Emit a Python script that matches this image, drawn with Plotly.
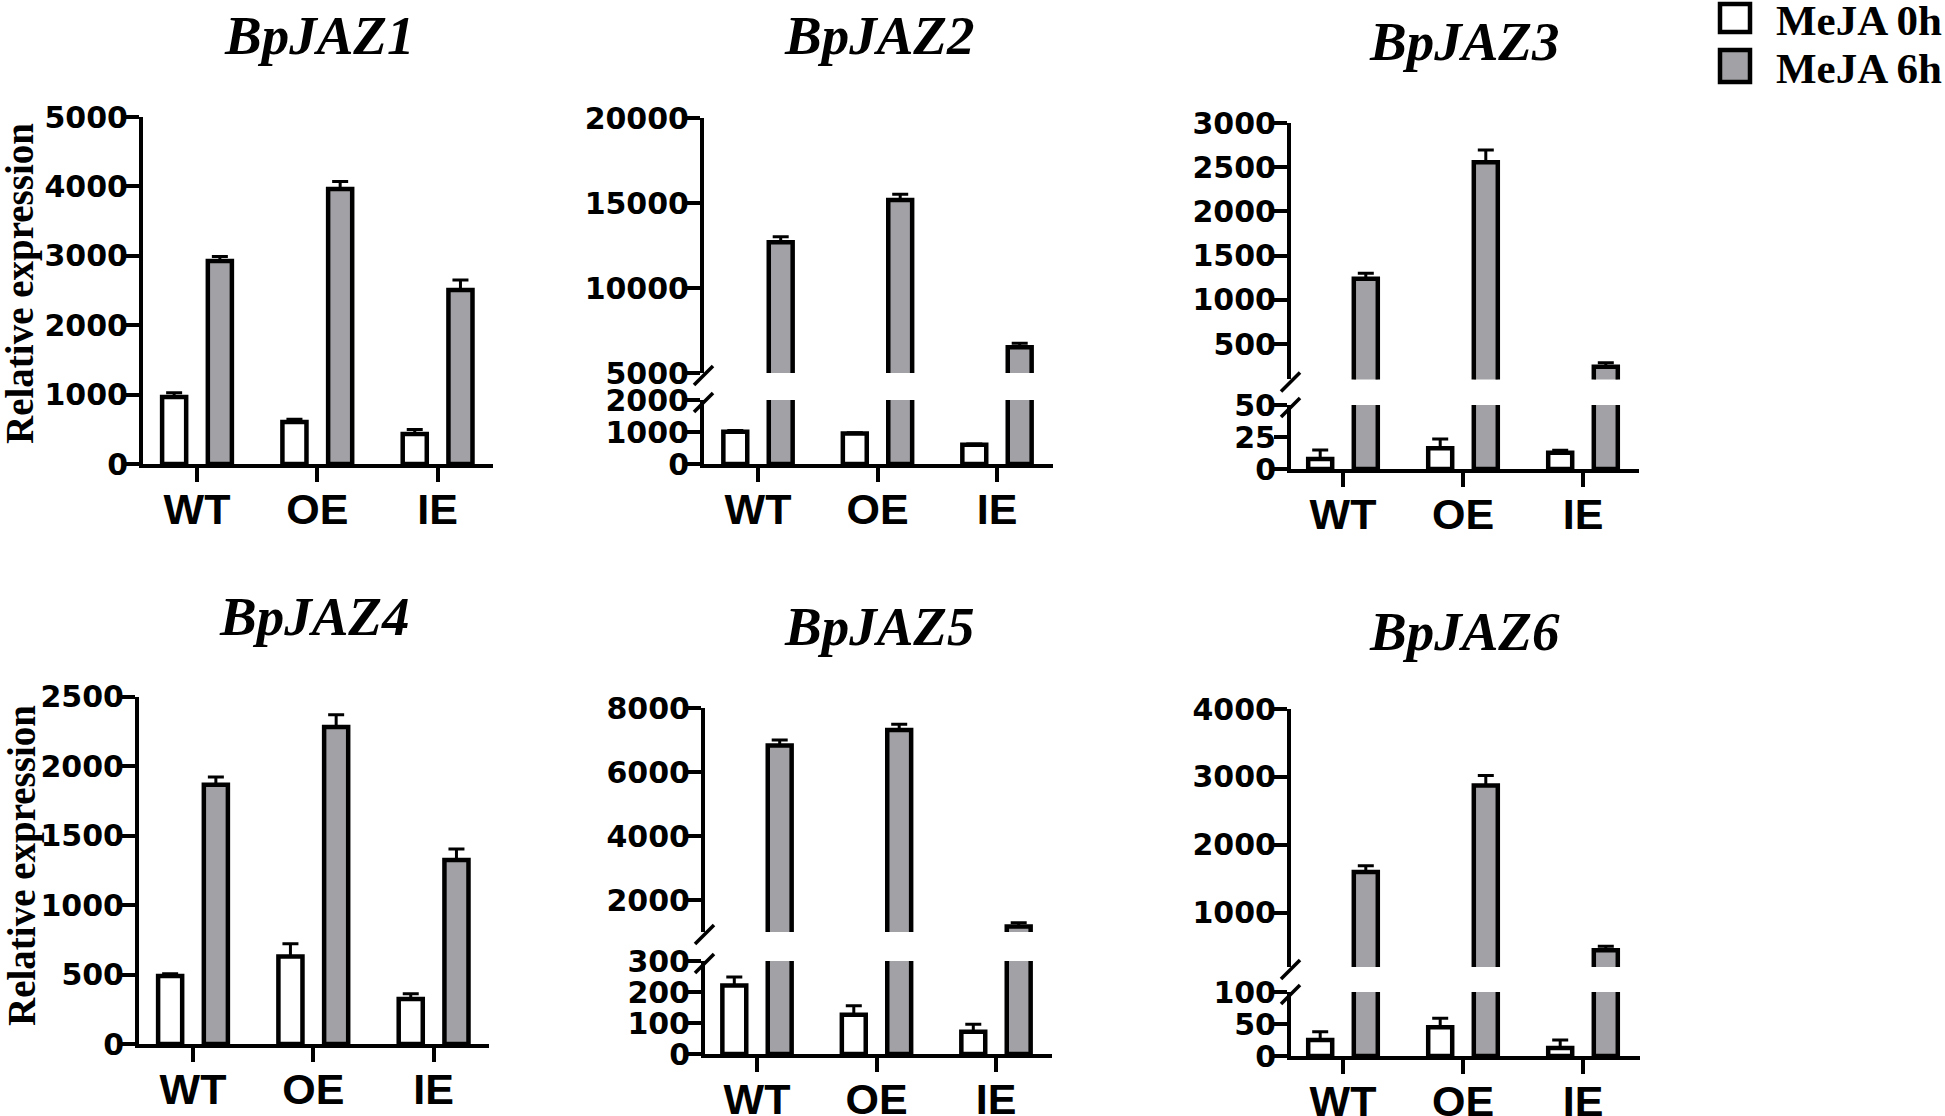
import plotly.graph_objects as go

W, H = 1945, 1116

# ---------------- data ----------------
categories = ["WT", "OE", "IE"]
genes = ["BpJAZ1", "BpJAZ2", "BpJAZ3", "BpJAZ4", "BpJAZ5", "BpJAZ6"]
series_names = ["MeJA 0h", "MeJA 6h"]
y_title = "Relative expression"

jaz1_0h = [965, 605, 432]
jaz1_0h_err = [60, 40, 65]
jaz1_6h = [2925, 3962, 2507]
jaz1_6h_err = [65, 110, 145]

jaz2_0h = [1010, 950, 600]
jaz2_0h_err = [40, 30, 25]
jaz2_6h = [12690, 15180, 6510]
jaz2_6h_err = [330, 330, 235]

jaz3_0h = [7.8, 16.2, 12.6]
jaz3_0h_err = [7, 7.3, 2]
jaz3_6h = [1238, 2555, 243]
jaz3_6h_err = [64, 139, 45]

jaz4_0h = [490, 630, 324]
jaz4_0h_err = [15, 92, 38]
jaz4_6h = [1865, 2281, 1324]
jaz4_6h_err = [56, 87, 79]

jaz5_0h = [221, 127, 72]
jaz5_0h_err = [27, 29, 24]
jaz5_6h = [6825, 7313, 1169]
jaz5_6h_err = [175, 178, 122]

jaz6_0h = [25, 45, 12.5]
jaz6_0h_err = [13, 14, 12.5]
jaz6_6h = [1599, 2874, 447]
jaz6_6h_err = [93, 146, 57]

jaz1_ticks = [0, 1000, 2000, 3000, 4000, 5000]
jaz2_ticks_low = [0, 1000, 2000]
jaz2_ticks_high = [5000, 10000, 15000, 20000]
jaz3_ticks_low = [0, 25, 50]
jaz3_ticks_high = [500, 1000, 1500, 2000, 2500, 3000]
jaz4_ticks = [0, 500, 1000, 1500, 2000, 2500]
jaz5_ticks_low = [0, 100, 200, 300]
jaz5_ticks_high = [2000, 4000, 6000, 8000]
jaz6_ticks_low = [0, 50, 100]
jaz6_ticks_high = [1000, 2000, 3000, 4000]

# ---------------- layout geometry (pixels) ----------------
panels = [
    dict(v0=jaz1_0h, e0=jaz1_0h_err, v6=jaz1_6h, e6=jaz1_6h_err,
         xl=143, xr=493, c0=197, sp=120.3,
         segs=[dict(b=464, t=117, rng=[0, 5000], ticks=jaz1_ticks)],
         title=(319, 35), ylab=(20, 284)),
    dict(v0=jaz2_0h, e0=jaz2_0h_err, v6=jaz2_6h, e6=jaz2_6h_err,
         xl=704, xr=1053, c0=758, sp=119.5,
         segs=[dict(b=464, t=400, rng=[0, 2000], ticks=jaz2_ticks_low),
               dict(b=373, t=118, rng=[5000, 20000], ticks=jaz2_ticks_high)],
         title=(879, 35), ylab=None),
    dict(v0=jaz3_0h, e0=jaz3_0h_err, v6=jaz3_6h, e6=jaz3_6h_err,
         xl=1291, xr=1639, c0=1343, sp=120,
         segs=[dict(b=469, t=405, rng=[0, 50], ticks=jaz3_ticks_low),
               dict(b=379.4, t=123, rng=[100, 3000], ticks=jaz3_ticks_high)],
         title=(1464, 41), ylab=None),
    dict(v0=jaz4_0h, e0=jaz4_0h_err, v6=jaz4_6h, e6=jaz4_6h_err,
         xl=139, xr=489, c0=193, sp=120.3,
         segs=[dict(b=1044, t=696.5, rng=[0, 2500], ticks=jaz4_ticks)],
         title=(314, 616), ylab=(22, 866)),
    dict(v0=jaz5_0h, e0=jaz5_0h_err, v6=jaz5_6h, e6=jaz5_6h_err,
         xl=705, xr=1052, c0=757, sp=119.5,
         segs=[dict(b=1054, t=961, rng=[0, 300], ticks=jaz5_ticks_low),
               dict(b=932, t=708, rng=[1000, 8000], ticks=jaz5_ticks_high)],
         title=(879, 626), ylab=None),
    dict(v0=jaz6_0h, e0=jaz6_0h_err, v6=jaz6_6h, e6=jaz6_6h_err,
         xl=1291, xr=1640, c0=1343, sp=120,
         segs=[dict(b=1056, t=992, rng=[0, 100], ticks=jaz6_ticks_low),
               dict(b=967, t=709, rng=[200, 4000], ticks=jaz6_ticks_high)],
         title=(1464, 631), ylab=None),
]

GRAY = "#A2A2A6"
LINE_W = 4.5
BAR_W = 0.2
OFF0, OFF6 = -0.29, 0.09


def px(x):
    return x / W


def py(y):
    return 1 - y / H


tick_font = dict(family="DejaVu Sans", size=30, color="black", weight="bold")
cat_font = dict(family="Liberation Sans", size=43, color="black", weight="bold")

fig = go.Figure()
layout = dict(
    width=W, height=H, margin=dict(l=0, r=0, t=0, b=0, pad=0, autoexpand=False),
    paper_bgcolor="white", plot_bgcolor="white",
    showlegend=False, barmode="overlay",
)
shapes = []
annotations = []


def err(arr):
    return dict(type="data", array=arr, arrayminus=[0] * len(arr), symmetric=False,
                color="black", thickness=3, width=8, visible=True)


yidx = 0
for pi, p in enumerate(panels):
    xn = pi + 1
    xname = f"x{xn}" if xn > 1 else "x"
    ynames = []
    for s in p["segs"]:
        yidx += 1
        ynames.append(f"y{yidx}" if yidx > 1 else "y")
    low = ynames[0]
    layout[f"xaxis{xn}" if xn > 1 else "xaxis"] = dict(
        type="category", categoryorder="array", categoryarray=categories,
        domain=[px(p["xl"]), px(p["xr"])],
        range=[(p["xl"] - p["c0"]) / p["sp"], (p["xr"] - p["c0"]) / p["sp"]],
        anchor=low, showline=True, linewidth=4, linecolor="black",
        ticks="outside", ticklen=14, tickwidth=4, tickcolor="black",
        tickfont=cat_font, ticklabelstandoff=-10, automargin=False,
        showgrid=False, zeroline=False, fixedrange=True,
    )
    for s, yn in zip(p["segs"], ynames):
        key = "yaxis" + yn[1:]
        layout[key] = dict(
            domain=[py(s["b"]), py(s["t"])], range=s["rng"],
            tickmode="array", tickvals=s["ticks"], ticktext=[str(t) for t in s["ticks"]],
            anchor=xname, showline=True, linewidth=4, linecolor="black",
            ticks="outside", ticklen=13, tickwidth=4, tickcolor="black",
            tickfont=tick_font, ticklabelstandoff=-8, automargin=False,
            showgrid=False, zeroline=False, fixedrange=True,
        )

    # white bars (0h) on lower segment
    fig.add_trace(go.Bar(
        x=categories, y=p["v0"], xaxis=xname, yaxis=low, name=series_names[0],
        width=BAR_W, offset=OFF0,
        marker=dict(color="white", line=dict(color="black", width=LINE_W)),
        error_y=err(p["e0"]), hoverinfo="skip",
    ))
    broken = len(p["segs"]) > 1
    # gray bars (6h) on lower segment
    fig.add_trace(go.Bar(
        x=categories, y=p["v6"], xaxis=xname, yaxis=low, name=series_names[1],
        width=BAR_W, offset=OFF6,
        marker=dict(color=GRAY, line=dict(color="black", width=LINE_W)),
        error_y=err(p["e6"]) if not broken else dict(visible=False), hoverinfo="skip",
    ))
    if broken:
        fig.add_trace(go.Bar(
            x=categories, y=p["v6"], xaxis=xname, yaxis=ynames[1], name=series_names[1],
            width=BAR_W, offset=OFF6,
            marker=dict(color=GRAY, line=dict(color="black", width=LINE_W)),
            error_y=err(p["e6"]), hoverinfo="skip",
        ))
        # break marks on the y axis
        for yy in (p["segs"][1]["b"] + 2, p["segs"][0]["t"] + 2):
            shapes.append(dict(type="line", xref="paper", yref="paper",
                               x0=px(p["xl"] - 10), y0=py(yy + 10),
                               x1=px(p["xl"] + 9), y1=py(yy - 9),
                               line=dict(color="black", width=3.5)))

    annotations.append(dict(
        text=genes[pi], xref="paper", yref="paper",
        x=px(p["title"][0]), y=py(p["title"][1]), xanchor="center", yanchor="middle",
        showarrow=False,
        font=dict(family="Liberation Serif", size=55, color="black", weight="bold", style="italic"),
    ))
    if p["ylab"]:
        annotations.append(dict(
            text=y_title, xref="paper", yref="paper", textangle=-90,
            x=px(p["ylab"][0]), y=py(p["ylab"][1]), xanchor="center", yanchor="middle",
            showarrow=False,
            font=dict(family="Liberation Serif", size=39, color="black", weight="bold"),
        ))

# legend (drawn manually)
legend_items = [(series_names[0], "white", 4, 32, 21), (series_names[1], GRAY, 50, 82, 69)]
for name, col, y0, y1, ym in legend_items:
    shapes.append(dict(type="rect", xref="paper", yref="paper",
                       x0=px(1720), x1=px(1750), y0=py(y1), y1=py(y0),
                       fillcolor=col, line=dict(color="black", width=4.5)))
    annotations.append(dict(
        text=name, xref="paper", yref="paper", x=px(1774), y=py(ym),
        xanchor="left", yanchor="middle", showarrow=False,
        font=dict(family="Liberation Serif", size=43, color="black", weight="bold"),
    ))

layout["shapes"] = shapes
layout["annotations"] = annotations
fig.update_layout(**layout)

fig.write_html("out.html", config={"displayModeBar": False},
               post_script="document.body.style.margin='0';document.body.style.overflow='hidden';")
